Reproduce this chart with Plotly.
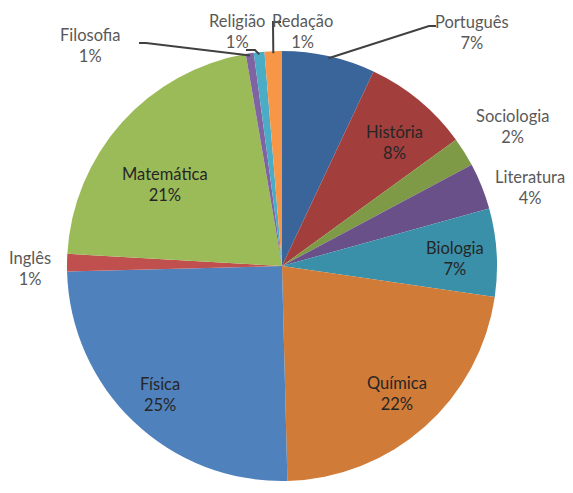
import math
import plotly.graph_objects as go

# slice data, clockwise from 12 o'clock
subjects = ['Português', 'História', 'Sociologia', 'Literatura', 'Biologia', 'Química',
            'Física', 'Inglês', 'Matemática', 'Filosofia', 'Religião', 'Redação']
shares = [7.0, 8.0, 2.2, 3.5, 6.6, 22.3, 25.0, 1.3, 21.4, 0.6, 0.8, 1.3]
colors = ['#3A659B', '#A23F3C', '#7E9A46', '#6A5089', '#3A90A8', '#D07B38',
          '#4F81BD', '#C0504D', '#9BBB59', '#8064A2', '#4BACC6', '#F79646']

W, H = 573, 493
cx, cy, R = 282, 266, 215  # pie centre / radius in px

# label centres (px) and whether label sits inside the slice
label_pos = {
    'Português': (472, 32, False), 'História': (394, 142, True),
    'Sociologia': (512, 127, False), 'Literatura': (530, 188, False),
    'Biologia': (455, 258, True), 'Química': (397, 393, True),
    'Física': (160, 394, True), 'Inglês': (30, 268, False),
    'Matemática': (165, 184, True), 'Filosofia': (90, 45, False),
    'Religião': (237, 31, False), 'Redação': (303, 31, False),
}
# elbow points of leader lines (px)
leaders = {
    'Português': [(436, 26), (429, 26)],
    'Redação': [(281, 22), (273, 22)],
    'Religião': [(246, 50), (255, 50)],
    'Filosofia': [(139, 43), (146, 43)],
}


def px(x, y):
    return x / W, 1 - y / H


fig = go.Figure(go.Pie(
    labels=subjects, values=shares, sort=False, direction='clockwise', rotation=0,
    marker=dict(colors=colors, line=dict(width=0)),
    textinfo='none', hoverinfo='label+percent',
    domain=dict(x=[(cx - R) / W, (cx + R) / W], y=[1 - (cy + R) / H, 1 - (cy - R) / H]),
    showlegend=False,
))

total = sum(shares)
start = 0.0
shapes = []
annotations = []
for name, v in zip(subjects, shares):
    mid = (start + v / 2) / total * 2 * math.pi
    start += v
    lx, ly, inside = label_pos[name]
    x, y = px(lx, ly)
    annotations.append(dict(
        x=x, y=y, xref='paper', yref='paper', showarrow=False,
        xanchor='center', yanchor='middle',
        text=f"{name}<br>{int(v + 0.5)}%",
        font=dict(family='Lato, Open Sans, sans-serif', size=16.5,
                  color='#262626' if inside else '#595959'),
    ))
    if name in leaders:
        ex = cx + R * math.sin(mid) * 0.99
        ey = cy - R * math.cos(mid) * 0.99
        pts = leaders[name] + [(ex, ey)]
        path = 'M ' + ' L '.join(f'{px(a, b)[0]},{px(a, b)[1]}' for a, b in pts)
        shapes.append(dict(type='path', path=path, xref='paper', yref='paper',
                           line=dict(color='#404040', width=2)))

fig.update_layout(
    width=W, height=H, margin=dict(l=0, r=0, t=0, b=0),
    paper_bgcolor='white', plot_bgcolor='white',
    shapes=shapes, annotations=annotations,
)

fig.write_html('out.html', config={'displayModeBar': False},
               post_script="document.body.style.margin='0';")
